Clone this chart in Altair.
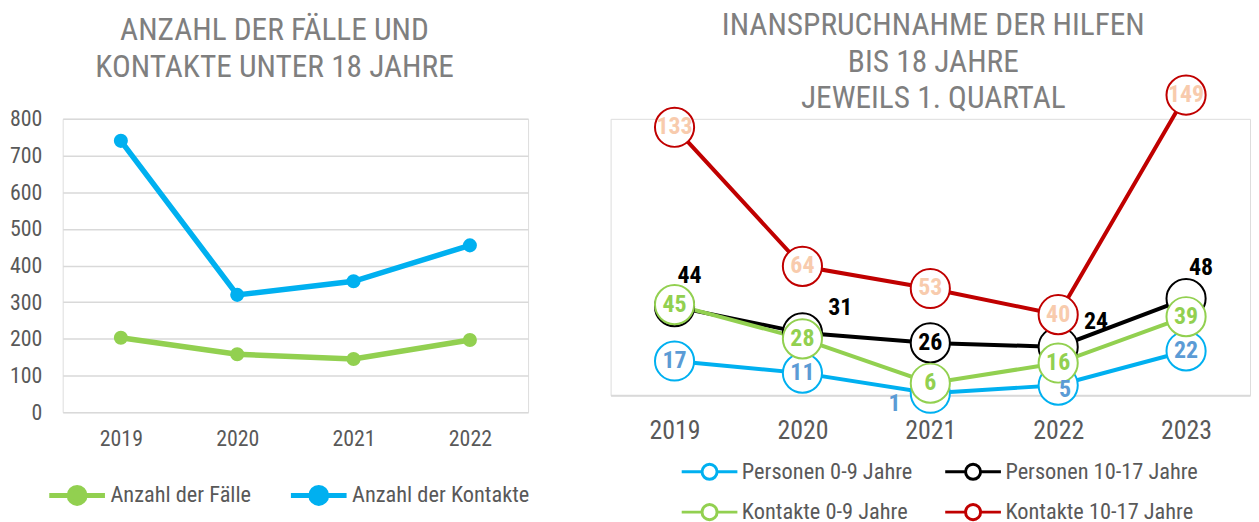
import altair as alt
import pandas as pd

FONT = "Roboto Condensed, Liberation Sans Narrow, Arial Narrow, Liberation Sans, sans-serif"
GRAY_TXT = "#595959"
TITLE_COL = "#7F7F7F"

# ---------------- left chart data ----------------
years_left = ["2019", "2020", "2021", "2022"]
faelle = [203, 158, 145, 197]
kontakte = [740, 320, 357, 455]
left_series = ["Anzahl der Fälle", "Anzahl der Kontakte"]
left_colors = ["#92D050", "#00B0F0"]
left_y_ticks = [0, 100, 200, 300, 400, 500, 600, 700, 800]

# ---------------- right chart data ----------------
years_right = [2019, 2020, 2021, 2022, 2023]
personen_0_9 = [17, 11, 1, 5, 22]
personen_10_17 = [44, 31, 26, 24, 48]
kontakte_0_9 = [45, 28, 6, 16, 39]
kontakte_10_17 = [133, 64, 53, 40, 149]
right_series = ["Personen 0-9 Jahre", "Personen 10-17 Jahre",
                "Kontakte 0-9 Jahre", "Kontakte  10-17 Jahre"]
right_colors = ["#00B0F0", "#000000", "#92D050", "#C00000"]
right_label_colors = ["#5B9BD5", "#000000", "#92D050", "#F8CBAD"]

rows = []
for s, vals in zip(left_series, [faelle, kontakte]):
    for y, v in zip(years_left, vals):
        rows.append({"year": y, "series": s, "value": v})
df_left = pd.DataFrame(rows)

rows = []
for i, (s, vals) in enumerate(zip(right_series, [personen_0_9, personen_10_17, kontakte_0_9, kontakte_10_17])):
    for y, v in zip(years_right, vals):
        rows.append({"year": y, "series": s, "sid": i, "value": v})
df_right = pd.DataFrame(rows)

# ---------------- left chart ----------------
left_sym = "M-2,0H2M-0.57,0A0.57,0.57,0,1,1,0.57,0A0.57,0.57,0,1,1,-0.57,0Z"
xl = alt.X("year:O", scale=alt.Scale(type="point", padding=0.5),
           axis=alt.Axis(title=None, labelAngle=0, domain=False, ticks=False, grid=False,
                         labelFontSize=22, labelColor=GRAY_TXT, labelFont=FONT, labelPadding=17))
yl = alt.Y("value:Q", scale=alt.Scale(domain=[0, 800], nice=False),
           axis=alt.Axis(title=None, values=left_y_ticks, domain=False, ticks=False, tickSize=0,
                         grid=True, gridColor="#D9D9D9", gridWidth=1.5,
                         labelFontSize=22, labelColor=GRAY_TXT, labelFont=FONT, labelPadding=21))
cl = alt.Color("series:N", scale=alt.Scale(domain=left_series, range=left_colors),
               legend=alt.Legend(title=None, orient="none", legendX=-2, legendY=362,
                                 direction="horizontal", columns=2, symbolType=left_sym,
                                 symbolSize=784, symbolStrokeWidth=5, labelFontSize=22.5,
                                 labelFont=FONT, labelColor=GRAY_TXT, columnPadding=29,
                                 labelOffset=17, labelLimit=400))
base_l = alt.Chart(df_left).encode(x=xl, y=yl, color=cl)
left = alt.layer(
    base_l.mark_line(strokeWidth=5.5),
    base_l.mark_point(filled=True, size=200, opacity=1),
).properties(
    width=468, height=295,
    title=alt.TitleParams(["ANZAHL DER FÄLLE UND", "KONTAKTE UNTER 18 JAHRE"],
                          font=FONT, fontSize=31.5, fontWeight="normal", color=TITLE_COL,
                          lineHeight=37, anchor="middle", frame="group", dx=-21, offset=25),
)

# ---------------- right chart ----------------
right_sym = "M-2,0H-0.54M0.54,0H2M-0.54,0A0.54,0.54,0,1,1,0.54,0A0.54,0.54,0,1,1,-0.54,0Z"
xr = alt.X("year:Q", scale=alt.Scale(domain=[2018.5, 2023.5], nice=False, zero=False),
           axis=alt.Axis(title=None, values=years_right, format="d", grid=False, ticks=False,
                         domain=True, domainColor="#D9D9D9", domainWidth=2,
                         labelFontSize=26, labelColor=GRAY_TXT, labelFont=FONT,
                         labelPadding=22, labelFlush=False))
yr = alt.Y("value:Q", scale=alt.Scale(domain=[0, 137.2], nice=False), axis=None)
cr = alt.Color("series:N", scale=alt.Scale(domain=right_series, range=right_colors),
               legend=alt.Legend(title=None, orient="none", legendX=84, legendY=339,
                                 direction="horizontal", columns=2, symbolType=right_sym,
                                 symbolSize=784, symbolStrokeWidth=3, symbolFillColor="white",
                                 labelFontSize=22.5, labelFont=FONT, labelColor=GRAY_TXT,
                                 columnPadding=26, rowPadding=11, labelOffset=17, labelLimit=400))
stroke_r = alt.Stroke("series:N", scale=alt.Scale(domain=right_series, range=right_colors), legend=None)
fill_txt = alt.Fill("series:N", scale=alt.Scale(domain=right_series, range=right_label_colors), legend=None)

base_r = alt.Chart(df_right).encode(x=xr, y=yr)
lines_r = base_r.mark_line(strokeWidth=4).encode(color=cr, detail="sid:N")
points_r = base_r.mark_point(shape="circle", size=1550, filled=False, fill="white",
                             fillOpacity=1, opacity=1, strokeWidth=2).encode(stroke=stroke_r)
TXT = dict(font=FONT, fontSize=24, fontWeight="bold", baseline="middle")
txt_main = base_r.mark_text(**TXT).encode(text="value:Q", fill=fill_txt).transform_filter(
    "!(datum.sid == 1 && datum.year != 2021) && !(datum.sid == 0 && (datum.year == 2021 || datum.year == 2022))")
txt_black_a = base_r.mark_text(dx=15, dy=-31, **TXT).encode(text="value:Q", fill=fill_txt).transform_filter(
    "datum.sid == 1 && (datum.year == 2019 || datum.year == 2023)")
txt_black_b = base_r.mark_text(dx=38, dy=-25, **TXT).encode(text="value:Q", fill=fill_txt).transform_filter(
    "datum.sid == 1 && (datum.year == 2020 || datum.year == 2022)")
txt_one = base_r.mark_text(dx=-36, dy=11, **TXT).encode(text="value:Q", fill=fill_txt).transform_filter(
    "datum.sid == 0 && datum.year == 2021")
txt_five = base_r.mark_text(dx=7, dy=5, **TXT).encode(text="value:Q", fill=fill_txt).transform_filter(
    "datum.sid == 0 && datum.year == 2022")

right = alt.layer(lines_r, points_r, txt_main, txt_black_a, txt_black_b, txt_one, txt_five).properties(
    width=643, height=278,
    title=alt.TitleParams(["INANSPRUCHNAHME DER HILFEN", "BIS 18 JAHRE", "JEWEILS 1. QUARTAL"],
                          font=FONT, fontSize=31.5, fontWeight="normal", color=TITLE_COL,
                          lineHeight=36.5, anchor="middle", frame="group", dx=3, offset=-43),
).resolve_scale(color="independent", stroke="independent", fill="independent")

chart = alt.hconcat(left, right, spacing=83, bounds="flush",
                    padding={"left": 0, "top": 0, "right": 0, "bottom": 0}).resolve_scale(
    color="independent", x="independent", y="independent"
).configure_view(stroke=None).configure(background="white")

chart.save("out.html", embed_options={"renderer": "svg", "actions": False})
